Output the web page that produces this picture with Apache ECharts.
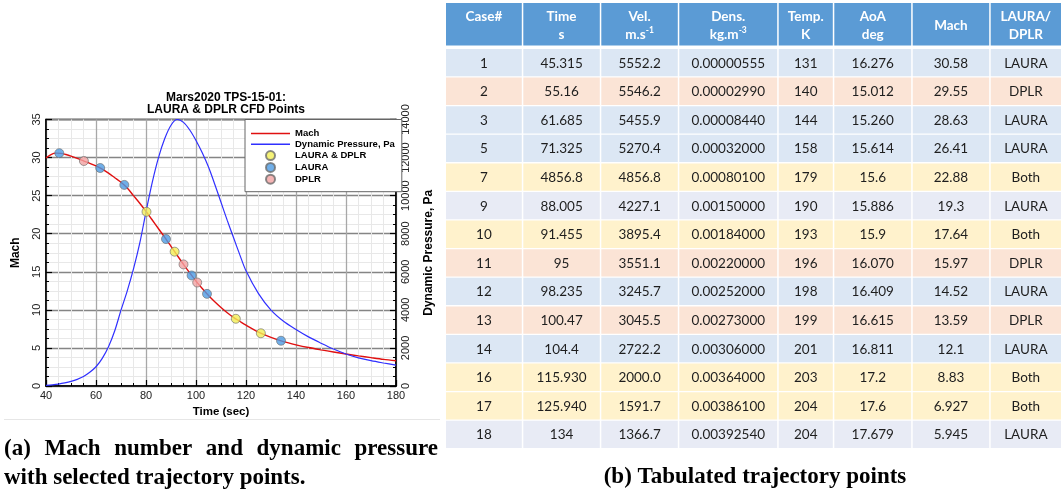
<!DOCTYPE html>
<html>
<head>
<meta charset="utf-8">
<script src="https://cdn.jsdelivr.net/npm/echarts@6.0.0/dist/echarts.min.js"></script>
<style>
  html, body { margin: 0; padding: 0; background: #ffffff; }
  #c { width: 1061px; height: 493px; }
</style>
</head>
<body>
<div id="c"></div>
<script>
// ---- Mars2020 entry trajectory: Mach number history (time in s) ----
const machTime  = [40, 42, 44, 46, 48, 50, 52.5, 55, 57.5, 60, 62.5, 65, 67.5, 70, 72.5, 75, 77.5, 80,
                   82.5, 85, 87.5, 90, 92.5, 95, 97.5, 100, 102.5, 105, 107.5, 110, 112.5, 115, 117.5,
                   120, 125, 130, 135, 140, 145, 150, 155, 160, 165, 170, 175, 180];
const machValue = [29.95, 30.40, 30.58, 30.55, 30.40, 30.20, 29.90, 29.57, 29.25, 28.90, 28.48, 27.95,
                   27.35, 26.75, 26.00, 25.00, 24.00, 22.93, 21.80, 20.65, 19.53, 18.35, 17.15, 15.97,
                   14.85, 13.78, 12.80, 11.89, 11.07, 10.32, 9.63, 9.02, 8.50, 7.99, 7.09, 6.39, 5.83,
                   5.41, 5.05, 4.75, 4.47, 4.20, 3.95, 3.72, 3.50, 3.32];

// ---- Dynamic pressure history (Pa) ----
const dpTime  = [40, 42.5, 45, 47.5, 50, 52.5, 55, 57.5, 60, 62.5, 65, 67.5, 70, 72.5, 75, 77.5, 80,
                 82.5, 85, 87.5, 90, 92.5, 95, 97.5, 100, 102.5, 105, 107.5, 110, 112.5, 115, 117.5,
                 120, 125, 130, 135, 140, 145, 150, 155, 160, 165, 170, 175, 180];
const dpValue = [30, 60, 100, 160, 240, 350, 500, 720, 1010, 1450, 2060, 2900, 3985, 5000, 6150, 7500,
                 9150, 10700, 12000, 13000, 13700, 14000, 13850, 13450, 12900, 12250, 11500, 10600,
                 9650, 8700, 7800, 6900, 6050, 4850, 3985, 3400, 2970, 2580, 2250, 1940, 1680, 1480,
                 1330, 1210, 1100];

// ---- Selected trajectory points (table columns, kept as printed) ----
const caseNo   = ['1', '2', '3', '5', '7', '9', '10', '11', '12', '13', '14', '16', '17', '18'];
const timeText = ['45.315', '55.16', '61.685', '71.325', '4856.8', '88.005', '91.455', '95', '98.235',
                  '100.47', '104.4', '115.930', '125.940', '134'];
const velText  = ['5552.2', '5546.2', '5455.9', '5270.4', '4856.8', '4227.1', '3895.4', '3551.1',
                  '3245.7', '3045.5', '2722.2', '2000.0', '1591.7', '1366.7'];
const densText = ['0.00000555', '0.00002990', '0.00008440', '0.00032000', '0.00080100', '0.00150000',
                  '0.00184000', '0.00220000', '0.00252000', '0.00273000', '0.00306000', '0.00364000',
                  '0.00386100', '0.00392540'];
const tempText = ['131', '140', '144', '158', '179', '190', '193', '196', '198', '199', '201', '203', '204', '204'];
const aoaText  = ['16.276', '15.012', '15.260', '15.614', '15.6', '15.886', '15.9', '16.070', '16.409',
                  '16.615', '16.811', '17.2', '17.6', '17.679'];
const machText = ['30.58', '29.55', '28.63', '26.41', '22.88', '19.3', '17.64', '15.97', '14.52', '13.59',
                  '12.1', '8.83', '6.927', '5.945'];
const solver   = ['LAURA', 'DPLR', 'LAURA', 'LAURA', 'Both', 'LAURA', 'Both', 'DPLR', 'LAURA', 'DPLR',
                  'LAURA', 'Both', 'Both', 'LAURA'];
// Plotted time of each point (case 7's time cell repeats its velocity; its point sits at ~80 s)
const pointTime = [45.315, 55.16, 61.685, 71.325, 80.2, 88.005, 91.455, 95, 98.235, 100.47, 104.4,
                   115.93, 125.94, 134];

// Table header: first line, second line ('' = blank line, null = single centred line, ^ = superscript)
const headTop    = ['Case#', 'Time', 'Vel.', 'Dens.', 'Temp.', 'AoA', 'Mach', 'LAURA/'];
const headBottom = ['', 's', 'm.s^-1', 'kg.m^-3', 'K', 'deg', null, 'DPLR'];

// ---- layout / style constants ----
const COL_W  = [77.3, 78, 78, 99.4, 55.6, 78.4, 78, 70.3];
const HEAD_H = 44.7;
const ROW_H  = 28.6;
const TABLE_W = COL_W.reduce((a, b) => a + b, 0);
const TABLE_H = HEAD_H + ROW_H * caseNo.length;
const COL_X = COL_W.map((_, i) => COL_W.slice(0, i).reduce((a, b) => a + b, 0));

const FILL_HEAD  = '#5b9bd5';
const FILL_LAURA = '#dce7f4';
const FILL_LAURA_ALT = '#e8ebf5';
const FILL_DPLR  = '#fbe4d6';
const FILL_BOTH  = '#fff2cc';

const SANS = 'Liberation Sans, Arial, Helvetica, sans-serif';
const CELL_FONT = 'Lato, "Noto Sans", sans-serif';
const SERIF = '"Liberation Serif", "Times New Roman", serif';
const LINE_ICON = 'path://M0,0H40V1.6H0Z';

const zip = (xs, ys) => xs.map((x, i) => [x, ys[i]]);
const machNum = machText.map(Number);
const pointsOf = code => pointTime.map((t, i) => solver[i] === code ? [t, machNum[i]] : null).filter(Boolean);

const rows = caseNo.map((_, i) => [caseNo[i], timeText[i], velText[i], densText[i], tempText[i],
                                   aoaText[i], machText[i], solver[i]]);

function rowFill(i) {
  const s = solver[i];
  if (s === 'DPLR') return FILL_DPLR;
  if (s === 'Both') return FILL_BOTH;
  return (i > 0 && solver[i - 1] === 'Both') ? FILL_LAURA_ALT : FILL_LAURA;
}

function richPart(str) {
  const parts = str.split('^');
  return parts.length > 1 ? '{h|' + parts[0] + '}{s|' + parts[1] + '}' : '{h|' + str + '}';
}
function headerText(c) {
  if (headBottom[c] === null) return '{h|' + headTop[c] + '}';
  return '{h|' + headTop[c] + '}\n' + (headBottom[c] === '' ? '{h| }' : richPart(headBottom[c]));
}

// cell grid: [column, row]; row 0 is the header
const cellData = [];
for (let r = 0; r <= rows.length; r++) {
  for (let c = 0; c < COL_W.length; c++) cellData.push([c, r]);
}

function renderCell(params, api) {
  const c = api.value(0), r = api.value(1);
  const x0 = COL_X[c], x1 = x0 + COL_W[c];
  const y0 = r === 0 ? 0 : HEAD_H + (r - 1) * ROW_H;
  const y1 = y0 + (r === 0 ? HEAD_H : ROW_H);
  const p0 = api.coord([x0, y0]);
  const p1 = api.coord([x1, y1]);
  const gapR = c < COL_W.length - 1 ? 1.5 : 0;
  const top = p0[1] + (r === 0 ? 0 : 1.3);
  const bottom = p1[1] - (r === 0 ? 2.2 : 0);
  const rect = {
    type: 'rect',
    shape: { x: p0[0], y: top, width: p1[0] - p0[0] - gapR, height: bottom - top },
    style: { fill: r === 0 ? FILL_HEAD : rowFill(r - 1) }
  };
  const cx = (p0[0] + p1[0] - gapR) / 2;
  const cy = (top + bottom) / 2;
  let text;
  if (r === 0) {
    text = {
      type: 'text',
      style: {
        text: headerText(c), x: cx, y: cy + 1.5, align: 'center', verticalAlign: 'middle',
        rich: {
          h: { fontFamily: CELL_FONT, fontWeight: 'bold', fontSize: 13.5, fill: '#ffffff', lineHeight: 18 },
          s: { fontFamily: CELL_FONT, fontWeight: 'bold', fontSize: 8.5, fill: '#ffffff', lineHeight: 18, verticalAlign: 'top' }
        }
      }
    };
  } else {
    text = {
      type: 'text',
      style: {
        text: rows[r - 1][c], x: cx, y: cy + 0.5, align: 'center', verticalAlign: 'middle',
        fontFamily: CELL_FONT, fontSize: 13.5, fill: '#1e1e1e'
      }
    };
  }
  return { type: 'group', children: [rect, text] };
}

// justified first caption line
function justifiedWords(words, left, right, y, font) {
  const ctx = document.createElement('canvas').getContext('2d');
  ctx.font = font;
  const widths = words.map(w => ctx.measureText(w).width);
  const total = widths.reduce((a, b) => a + b, 0);
  const gap = (right - left - total) / (words.length - 1);
  let x = left;
  return words.map((w, i) => {
    const el = { type: 'text', x: x, y: y, style: { text: w, font: font, fill: '#000', verticalAlign: 'middle' } };
    x += widths[i] + gap;
    return el;
  });
}

const CAPTION_FONT = 'bold 23px ' + SERIF;

const chart = echarts.init(document.getElementById('c'));

const option = {
  animation: false,
  backgroundColor: '#ffffff',
  title: {
    text: 'Mars2020 TPS-15-01:\nLAURA & DPLR CFD Points',
    left: 221, top: 86, textAlign: 'center',
    textStyle: { fontFamily: SANS, fontWeight: 'bold', fontSize: 12, lineHeight: 12.5, color: '#000' }
  },
  legend: {
    data: [
      { name: 'Mach', icon: LINE_ICON },
      { name: 'Dynamic Pressure, Pa', icon: LINE_ICON },
      { name: 'LAURA & DPLR', icon: 'circle' },
      { name: 'LAURA', icon: 'circle' },
      { name: 'DPLR', icon: 'circle' }
    ],
    orient: 'vertical',
    left: 245, top: 119.5,
    backgroundColor: '#ffffff',
    borderColor: '#666666', borderWidth: 1,
    padding: [9, 7, 7, 6],
    itemWidth: 39, itemHeight: 9, itemGap: 0.8,
    textStyle: { fontFamily: SANS, fontWeight: 'bold', fontSize: 9.5, lineHeight: 9, color: '#000' }
  },
  grid: [
    { left: 46, top: 119.5, width: 350, height: 266.5, show: true, borderColor: '#000', borderWidth: 1.5,
      backgroundColor: 'transparent' },
    { left: 446, top: 3, width: TABLE_W, height: TABLE_H }
  ],
  xAxis: [
    {
      gridIndex: 0, type: 'value', min: 40, max: 180, interval: 20,
      name: 'Time (sec)', nameLocation: 'middle', nameGap: 15,
      nameTextStyle: { fontFamily: SANS, fontWeight: 'bold', fontSize: 11.5, color: '#000' },
      axisLine: { show: true, lineStyle: { color: '#000', width: 1.5 } },
      axisTick: { show: true, inside: true, length: 6, lineStyle: { color: '#000', width: 1.2 } },
      minorTick: { show: true, splitNumber: 4, length: 3, lineStyle: { color: '#000' } },
      splitLine: { show: true, lineStyle: { color: '#a8a8a8', width: 1.3 } },
      minorSplitLine: { show: true, lineStyle: { color: '#e8e8e8', width: 1 } },
      axisLabel: { margin: 4, fontFamily: SANS, fontSize: 11, color: '#222' }
    },
    { gridIndex: 1, type: 'value', min: 0, max: TABLE_W, show: false }
  ],
  yAxis: [
    {
      gridIndex: 0, type: 'value', position: 'left', min: 0, max: 35, interval: 5,
      name: 'Mach', nameLocation: 'middle', nameGap: 24, nameRotate: 90,
      nameTextStyle: { fontFamily: SANS, fontWeight: 'bold', fontSize: 12, color: '#000' },
      axisLine: { show: true, lineStyle: { color: '#000', width: 1.5 } },
      axisTick: { show: true, inside: true, length: 6, lineStyle: { color: '#000', width: 1.2 } },
      minorTick: { show: true, splitNumber: 4, length: 3, lineStyle: { color: '#000' } },
      splitLine: { show: true, lineStyle: { color: '#858585', width: 1.3 } },
      minorSplitLine: { show: true, lineStyle: { color: '#e8e8e8', width: 1 } },
      axisLabel: { rotate: 90, margin: 4, fontFamily: SANS, fontSize: 11, color: '#222' }
    },
    {
      gridIndex: 0, type: 'value', position: 'right', min: 0, max: 14000, interval: 2000,
      name: 'Dynamic Pressure, Pa', nameLocation: 'middle', nameGap: 27, nameRotate: 90,
      nameTextStyle: { fontFamily: SANS, fontWeight: 'bold', fontSize: 12, color: '#000' },
      axisLine: { show: true, lineStyle: { color: '#000', width: 1.5 } },
      axisTick: { show: true, inside: true, length: 6, lineStyle: { color: '#000', width: 1.2 } },
      minorTick: { show: true, splitNumber: 4, length: 3, lineStyle: { color: '#000' } },
      splitLine: { show: false },
      axisLabel: { rotate: 90, margin: 4, fontFamily: SANS, fontSize: 11, color: '#222',
                   formatter: v => String(v) }
    },
    { gridIndex: 1, type: 'value', min: 0, max: TABLE_H, inverse: true, show: false }
  ],
  series: [
    {
      name: 'Mach', type: 'line', xAxisIndex: 0, yAxisIndex: 0,
      data: zip(machTime, machValue), symbol: 'none', smooth: 0.3, z: 3,
      color: '#e01010', lineStyle: { color: '#e01010', width: 1.4 }
    },
    {
      name: 'Dynamic Pressure, Pa', type: 'line', xAxisIndex: 0, yAxisIndex: 1,
      data: zip(dpTime, dpValue), symbol: 'none', smooth: 0.3, z: 3,
      color: '#3030ff', lineStyle: { color: '#3030ff', width: 1.2 }
    },
    {
      name: 'LAURA & DPLR', type: 'scatter', xAxisIndex: 0, yAxisIndex: 0,
      data: pointsOf('Both'), symbolSize: 9, z: 5,
      itemStyle: { color: '#f3ef55', borderColor: '#6b6b6b', borderWidth: 0.8 }
    },
    {
      name: 'LAURA', type: 'scatter', xAxisIndex: 0, yAxisIndex: 0,
      data: pointsOf('LAURA'), symbolSize: 9, z: 5,
      itemStyle: { color: '#4c9be3', borderColor: '#6b6b6b', borderWidth: 0.8 }
    },
    {
      name: 'DPLR', type: 'scatter', xAxisIndex: 0, yAxisIndex: 0,
      data: pointsOf('DPLR'), symbolSize: 9, z: 5,
      itemStyle: { color: '#f2a3a3', borderColor: '#6b6b6b', borderWidth: 0.8 }
    },
    {
      name: 'table', type: 'custom', xAxisIndex: 1, yAxisIndex: 2,
      coordinateSystem: 'cartesian2d', clip: false,
      encode: { x: 0, y: 1 }, data: cellData, renderItem: renderCell, silent: true
    }
  ],
  graphic: [
    { type: 'line', shape: { x1: 4, y1: 419.5, x2: 440, y2: 419.5 }, style: { stroke: '#e6e6e6', lineWidth: 1 } },
    ...justifiedWords(['(a)', 'Mach', 'number', 'and', 'dynamic', 'pressure'], 4, 438, 449, CAPTION_FONT),
    { type: 'text', x: 4, y: 478, style: { text: 'with selected trajectory points.', font: CAPTION_FONT, fill: '#000', verticalAlign: 'middle' } },
    { type: 'text', x: 755, y: 477, style: { text: '(b) Tabulated trajectory points', font: CAPTION_FONT, fill: '#000', align: 'center', verticalAlign: 'middle' } }
  ]
};

chart.setOption(option);
</script>
</body>
</html>
